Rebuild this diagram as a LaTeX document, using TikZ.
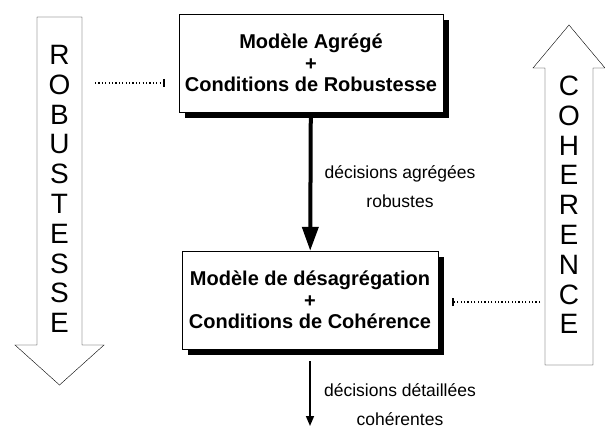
\documentclass[tikz,border=0pt]{standalone}
\usepackage{fontspec}
\setmainfont{Liberation Sans}
\usetikzlibrary{arrows.meta, shadows, positioning}
\tikzset{
  >={Triangle},
  boite/.style={
    rectangle,
    draw=black, thin,
    fill=white,
    minimum width=#1,
    minimum height=98pt,
    align=center,
    font=\fontsize{20}{21.5}\selectfont\bfseries,
    drop shadow={shadow xshift=6pt, shadow yshift=-6pt, fill=black, opacity=1}},
  grossefleche/.style={draw=black, thin, fill=white},
  lettres/.style={align=center, font=\fontsize{28}{29.8}\selectfont},
  etiquette/.style={align=center, font=\fontsize{17.5}{29}\selectfont},
  pointille/.style={draw, line width=1.4pt, dash pattern=on 1.2pt off 2.2pt,
    -{Bar[width=8pt, line width=1.5pt]}, shorten >=14pt},
}

\begin{document}
\begin{tikzpicture}[x=1pt, y=-1pt]
  \useasboundingbox (0,0) rectangle (605,428);
  % fleches de fond
  \filldraw[grossefleche] (37,17) -- (82,17) -- (82,345) -- (104,345) -- (59.5,385)
    -- (15,345) -- (37,345) -- cycle;
  \filldraw[grossefleche] (545,365) -- (545,68) -- (533,68) -- (569,25) -- (605,68)
    -- (593,68) -- (593,365) -- cycle;
  \node[lettres] (robustesse) at (59.5,189) {R\\O\\B\\U\\S\\T\\E\\S\\S\\E};
  \node[lettres] (coherence)  at (569,205)  {C\\O\\H\\E\\R\\E\\N\\C\\E};

  % modeles
  \node[boite=264pt] (agrege)   at (311,63)  {Modèle Agrégé\\+\\Conditions de Robustesse};
  \node[boite=256pt] (desagreg) at (310,300) {Modèle de désagrégation\\+\\Conditions de Cohérence};
  \coordinate (fin)  at (310,426);
  \coordinate (robG) at (95,83);
  \coordinate (cohD) at (540,302);

  \draw[->, line width=4pt, -{Triangle[length=24pt, width=16pt]}] (agrege) -- (desagreg);
  \draw[line width=1.5pt, -{Triangle[length=10pt, width=8pt]}, shorten <=12pt] (desagreg.south) -- (fin);
  \node[etiquette] (decAgreg)  at (400,187) {décisions agrégées\\robustes};
  \node[etiquette] (decDetail) at (400,405) {décisions détaillées\\cohérentes};

  \draw[pointille] (robG) -- (robG -| agrege.west);
  \draw[pointille] (cohD) -- (cohD -| desagreg.east);
\end{tikzpicture}
\end{document}
